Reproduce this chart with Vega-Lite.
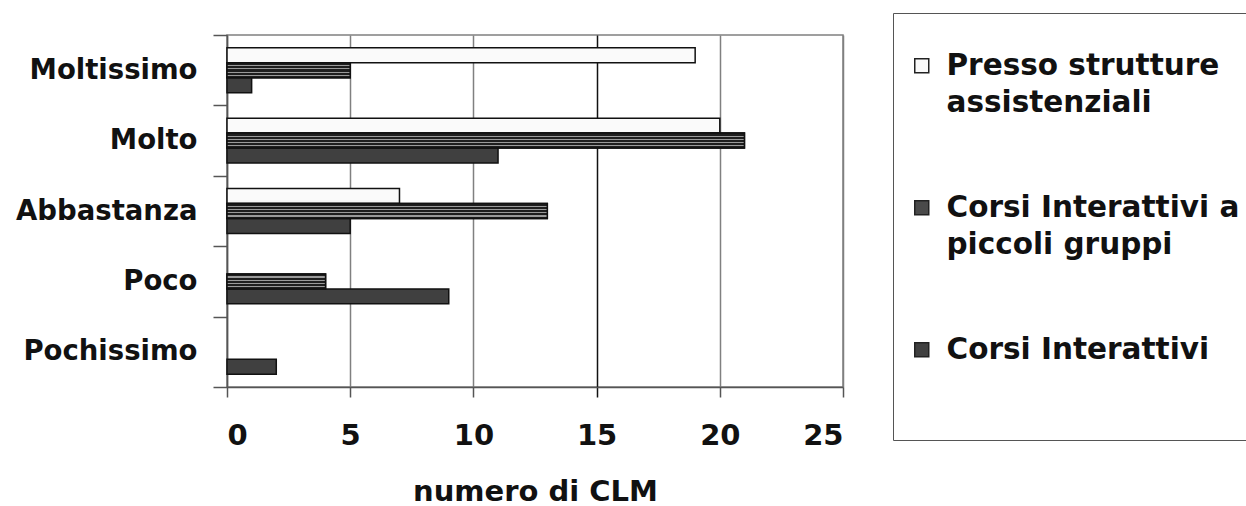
{
  "$schema": "https://vega.github.io/schema/vega-lite/v6.json",
  "width": 616,
  "height": 352,
  "autosize": {"type": "none"},
  "padding": {"left": 227, "top": 35, "right": 403, "bottom": 119},
  "background": "white",
  "config": {
    "view": {"stroke": "#808080", "strokeWidth": 1.5},
    "font": "DejaVu Sans"
  },
  "data": {
    "values": [
      {"livello": "Moltissimo", "serie": "Presso strutture assistenziali", "valore": 19},
      {"livello": "Moltissimo", "serie": "Corsi Interattivi a piccoli gruppi", "valore": 5},
      {"livello": "Moltissimo", "serie": "Corsi Interattivi", "valore": 1},
      {"livello": "Molto", "serie": "Presso strutture assistenziali", "valore": 20},
      {"livello": "Molto", "serie": "Corsi Interattivi a piccoli gruppi", "valore": 21},
      {"livello": "Molto", "serie": "Corsi Interattivi", "valore": 11},
      {"livello": "Abbastanza", "serie": "Presso strutture assistenziali", "valore": 7},
      {"livello": "Abbastanza", "serie": "Corsi Interattivi a piccoli gruppi", "valore": 13},
      {"livello": "Abbastanza", "serie": "Corsi Interattivi", "valore": 5},
      {"livello": "Poco", "serie": "Presso strutture assistenziali", "valore": 0},
      {"livello": "Poco", "serie": "Corsi Interattivi a piccoli gruppi", "valore": 4},
      {"livello": "Poco", "serie": "Corsi Interattivi", "valore": 9},
      {"livello": "Pochissimo", "serie": "Presso strutture assistenziali", "valore": 0},
      {"livello": "Pochissimo", "serie": "Corsi Interattivi a piccoli gruppi", "valore": 0},
      {"livello": "Pochissimo", "serie": "Corsi Interattivi", "valore": 2}
    ]
  },
  "encoding": {
    "y": {
      "field": "livello",
      "type": "nominal",
      "sort": ["Moltissimo", "Molto", "Abbastanza", "Poco", "Pochissimo"],
      "scale": {"paddingInner": 0, "paddingOuter": 0},
      "axis": {
        "title": null,
        "tickBand": "extent",
        "tickSize": 14,
        "tickWidth": 1.5,
        "tickColor": "#555",
        "domainColor": "#555",
        "domainWidth": 1.5,
        "labelPadding": 16,
        "labelLimit": 300,
        "labelFont": "DejaVu Sans",
        "labelFontSize": 27.5,
        "labelFontWeight": "bold",
        "labelColor": "#111",
        "grid": false
      }
    },
    "yOffset": {
      "field": "serie",
      "type": "nominal",
      "sort": ["Presso strutture assistenziali", "Corsi Interattivi a piccoli gruppi", "Corsi Interattivi"],
      "scale": {"paddingInner": 0, "paddingOuter": 0.85}
    },
    "x": {
      "field": "valore",
      "type": "quantitative",
      "scale": {"domain": [0, 25], "nice": false},
      "axis": {
        "values": [0, 5, 10, 15, 20, 25],
        "grid": true,
        "gridColor": {"condition": {"test": "datum.value === 15", "value": "#111"}, "value": "#808080"},
        "gridWidth": 1.5,
        "tickSize": 10,
        "tickWidth": 1.5,
        "tickColor": {"condition": {"test": "datum.value === 15", "value": "#111"}, "value": "#555"},
        "domainColor": "#555",
        "domainWidth": 1.5,
        "labelPadding": 24,
        "labelFont": "DejaVu Sans",
        "labelFontSize": 29,
        "labelFontWeight": "bold",
        "labelColor": "#111",
        "title": "numero di CLM",
        "titleFont": "DejaVu Sans",
        "titleFontSize": 29,
        "titleFontWeight": "bold",
        "titleColor": "#111",
        "titlePadding": 27
      }
    }
  },
  "layer": [
    {
      "transform": [{"filter": "datum.valore > 0"}],
      "mark": {"type": "bar", "stroke": "#111", "strokeWidth": 1.5},
      "encoding": {
        "fill": {
          "field": "serie",
          "type": "nominal",
          "sort": ["Presso strutture assistenziali", "Corsi Interattivi a piccoli gruppi", "Corsi Interattivi"],
          "scale": {
            "domain": ["Presso strutture assistenziali", "Corsi Interattivi a piccoli gruppi", "Corsi Interattivi"],
            "range": ["#fafafa", "#4a4a4a", "#404040"]
          },
          "legend": {
            "orient": "none",
            "legendX": 666,
            "legendY": -22,
            "title": null,
            "padding": 38,
            "strokeColor": "#555",
            "symbolType": "M-15.5,-3.5H-8.5V3.5H-15.5Z",
            "symbolSize": 16,
            "symbolStrokeColor": "#222",
            "symbolStrokeWidth": 1.5,
            "symbolOpacity": 1,
            "rowPadding": 74,
            "labelOffset": -14,
            "labelFont": "DejaVu Sans",
            "labelFontSize": 29.5,
            "labelFontWeight": "bold",
            "labelColor": "#111",
            "labelLimit": 400,
            "labelExpr": "datum.label == 'Presso strutture assistenziali' ? ['Presso strutture', 'assistenziali'] : datum.label == 'Corsi Interattivi a piccoli gruppi' ? ['Corsi Interattivi a', 'piccoli gruppi'] : [datum.label, '']",
            "encoding": {"labels": {"lineHeight": {"value": 37}}}
          }
        }
      }
    },
    {
      "transform": [{"filter": "datum.serie == 'Corsi Interattivi a piccoli gruppi' && datum.valore > 0"}],
      "mark": {
        "type": "bar",
        "stroke": "#111",
        "strokeWidth": 1.5,
        "fill": {
          "gradient": "linear",
          "x1": 0, "y1": 0, "x2": 0, "y2": 1,
          "stops": [
            {"offset": 0, "color": "#1e1e1e"},
            {"offset": 0.17, "color": "#1e1e1e"},
            {"offset": 0.17, "color": "#9a9a9a"},
            {"offset": 0.24, "color": "#9a9a9a"},
            {"offset": 0.24, "color": "#1e1e1e"},
            {"offset": 0.38, "color": "#1e1e1e"},
            {"offset": 0.38, "color": "#9a9a9a"},
            {"offset": 0.45, "color": "#9a9a9a"},
            {"offset": 0.45, "color": "#1e1e1e"},
            {"offset": 0.59, "color": "#1e1e1e"},
            {"offset": 0.59, "color": "#9a9a9a"},
            {"offset": 0.66, "color": "#9a9a9a"},
            {"offset": 0.66, "color": "#1e1e1e"},
            {"offset": 0.8, "color": "#1e1e1e"},
            {"offset": 0.8, "color": "#9a9a9a"},
            {"offset": 0.87, "color": "#9a9a9a"},
            {"offset": 0.87, "color": "#1e1e1e"},
            {"offset": 1, "color": "#1e1e1e"}
          ]
        }
      },
      "encoding": {}
    }
  ]
}
